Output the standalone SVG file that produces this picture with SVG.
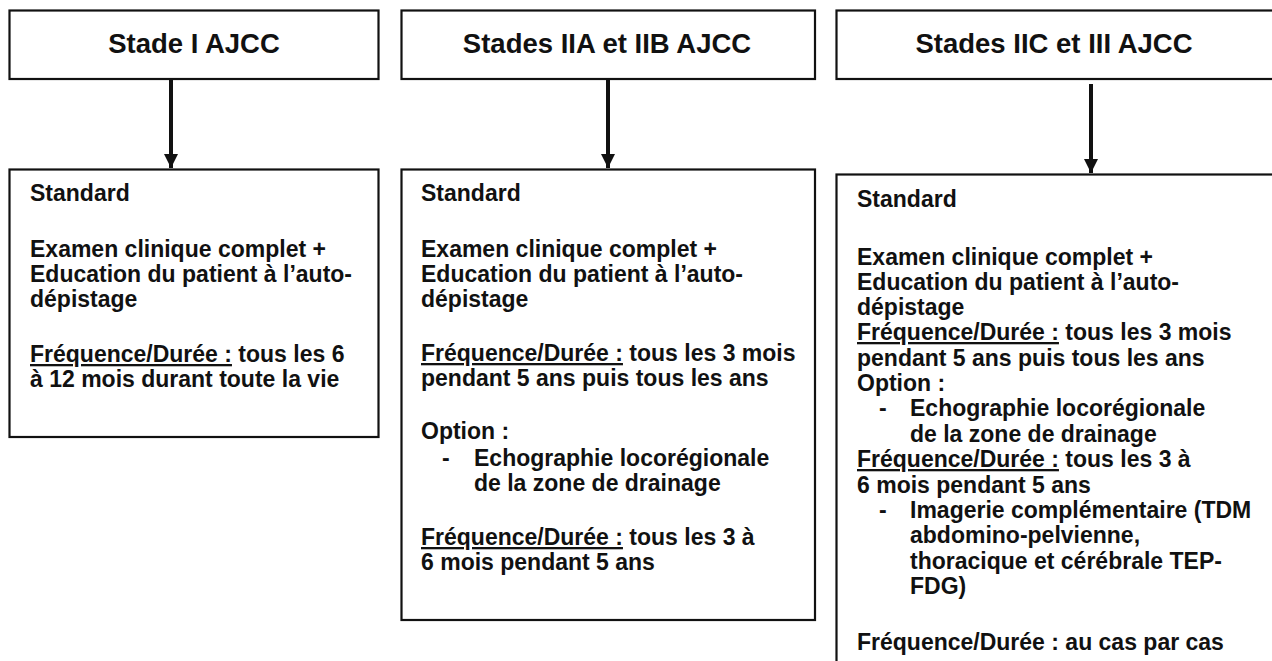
<svg xmlns="http://www.w3.org/2000/svg" width="1272" height="661" viewBox="0 0 1272 661">
  <style>
    .box { fill: #ffffff; stroke: #111111; stroke-width: 2.2; }
    .title { font-family: "Liberation Sans", Arial, sans-serif; font-weight: bold; font-size: 27.5px; fill: #111111; text-anchor: middle; }
    .body { font-family: "Liberation Sans", Arial, sans-serif; font-weight: bold; font-size: 23px; fill: #111111; }
    .u { text-decoration: underline; }
    .conn { stroke: #111111; stroke-width: 4; fill: none; }
  </style>
  <defs>
    <marker id="arrow" viewBox="0 0 10 10" refX="10" refY="5" markerUnits="userSpaceOnUse" markerWidth="14" markerHeight="14" orient="auto">
      <path d="M0,0 L10,5 L0,10 Z" fill="#111111"/>
    </marker>
  </defs>
  <rect x="0" y="0" width="1272" height="661" fill="#ffffff"/>

  <!-- stage headers -->
  <g id="stage1">
    <rect class="box" x="9.5" y="10.5" width="369" height="68.5"/>
    <text class="title" x="194" y="53">Stade I AJCC</text>
  </g>
  <g id="stage2">
    <rect class="box" x="401.5" y="10.5" width="413.5" height="68.5"/>
    <text class="title" x="607" y="53">Stades IIA et IIB AJCC</text>
  </g>
  <g id="stage3">
    <rect class="box" x="836.5" y="10.5" width="450" height="68.5"/>
    <text class="title" x="1054" y="53">Stades IIC et III AJCC</text>
  </g>

  <!-- connectors -->
  <g id="connectors">
    <line class="conn" x1="171" y1="80" x2="171" y2="168" marker-end="url(#arrow)"/>
    <line class="conn" x1="608" y1="80" x2="608" y2="168" marker-end="url(#arrow)"/>
    <line class="conn" x1="1091" y1="84" x2="1091" y2="173" marker-end="url(#arrow)"/>
  </g>

  <!-- follow-up detail boxes -->
  <g id="followup1">
    <rect class="box" x="9.5" y="169.5" width="369" height="267.5"/>
    <text class="body" x="30" y="201">Standard</text>
    <text class="body" x="30" y="257">Examen clinique complet +</text>
    <text class="body" x="30" y="282">Education du patient à l’auto-</text>
    <text class="body" x="30" y="307">dépistage</text>
    <text class="body" x="30" y="362"><tspan class="u">Fréquence/Durée :</tspan> tous les 6</text>
    <text class="body" x="30" y="387">à 12 mois durant toute la vie</text>
  </g>

  <g id="followup2">
    <rect class="box" x="401.5" y="169.5" width="413.5" height="450.5"/>
    <text class="body" x="421" y="201">Standard</text>
    <text class="body" x="421" y="257">Examen clinique complet +</text>
    <text class="body" x="421" y="282">Education du patient à l’auto-</text>
    <text class="body" x="421" y="307">dépistage</text>
    <text class="body" x="421" y="361"><tspan class="u">Fréquence/Durée :</tspan> tous les 3 mois</text>
    <text class="body" x="421" y="386">pendant 5 ans puis tous les ans</text>
    <text class="body" x="421" y="439">Option :</text>
    <text class="body" x="442" y="466">-</text>
    <text class="body" x="474" y="466">Echographie locorégionale</text>
    <text class="body" x="474" y="491">de la zone de drainage</text>
    <text class="body" x="421" y="545"><tspan class="u">Fréquence/Durée :</tspan> tous les 3 à</text>
    <text class="body" x="421" y="570">6 mois pendant 5 ans</text>
  </g>

  <g id="followup3">
    <rect class="box" x="836.5" y="174.5" width="450" height="500"/>
    <text class="body" x="857" y="207">Standard</text>
    <text class="body" x="857" y="265">Examen clinique complet +</text>
    <text class="body" x="857" y="290">Education du patient à l’auto-</text>
    <text class="body" x="857" y="315">dépistage</text>
    <text class="body" x="857" y="340"><tspan class="u">Fréquence/Durée :</tspan> tous les 3 mois</text>
    <text class="body" x="857" y="366">pendant 5 ans puis tous les ans</text>
    <text class="body" x="857" y="391">Option :</text>
    <text class="body" x="879" y="416">-</text>
    <text class="body" x="910" y="416">Echographie locorégionale</text>
    <text class="body" x="910" y="442">de la zone de drainage</text>
    <text class="body" x="857" y="467"><tspan class="u">Fréquence/Durée :</tspan> tous les 3 à</text>
    <text class="body" x="857" y="493">6 mois pendant 5 ans</text>
    <text class="body" x="879" y="518">-</text>
    <text class="body" x="910" y="518">Imagerie complémentaire (TDM</text>
    <text class="body" x="910" y="543">abdomino-pelvienne,</text>
    <text class="body" x="910" y="569">thoracique et cérébrale TEP-</text>
    <text class="body" x="910" y="594">FDG)</text>
    <text class="body" x="857" y="650">Fréquence/Durée : au cas par cas</text>
  </g>
</svg>
